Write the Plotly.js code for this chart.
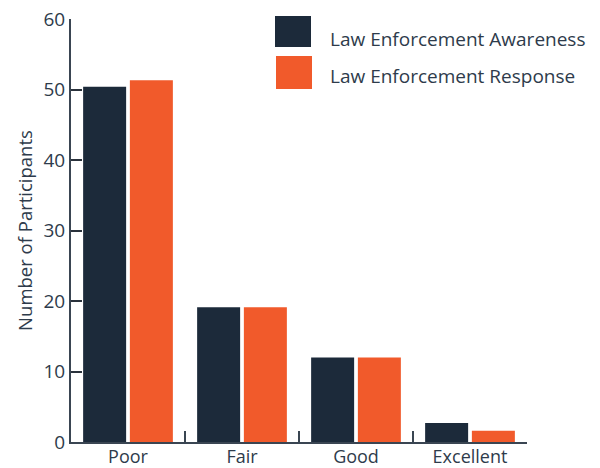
<!DOCTYPE html>
<html><head><meta charset="utf-8">
<script src="https://cdn.plot.ly/plotly-3.0.1.min.js"></script>
<style>html,body{margin:0;padding:0;background:#fff}#c{width:600px;height:468px}</style>
</head><body><div id="c"></div>
<script>
const categories = ["Poor", "Fair", "Good", "Excellent"];
const seriesNames = ["Law Enforcement Awareness", "Law Enforcement Response"];
const awareness = [50.4, 19.1, 12.0, 2.7];
const response = [51.3, 19.1, 12.0, 1.6];
const yTicks = [0, 10, 20, 30, 40, 50, 60];
const colors = ["#1c2a3a", "#f15a2b"];
const textColor = "#2e3b4b";

const traces = [
  {type: "bar", x: categories, y: awareness, name: seriesNames[0], marker: {color: colors[0]}, showlegend: false, hoverinfo: "none"},
  {type: "bar", x: categories, y: response, name: seriesNames[1], marker: {color: colors[1]}, showlegend: false, hoverinfo: "none"}
];

const L = 71, R = 527, T = 19, B = 442;
const px = v => (v - L) / (R - L);
const py = v => (B - v) / (B - T);

const layout = {
  width: 600, height: 468,
  margin: {l: L, r: 600 - R, t: T, b: 468 - B, pad: 0},
  paper_bgcolor: "#fff", plot_bgcolor: "#fff",
  barmode: "group", bargap: 0.18, bargroupgap: 0.08,
  font: {family: "Open Sans, sans-serif", color: textColor, size: 19},
  xaxis: {
    showline: true, linecolor: "#3a4552", linewidth: 2,
    ticks: "inside", tickson: "boundaries", ticklen: 11, tickwidth: 2, tickcolor: "#3a4552",
    tickfont: {size: 18, color: textColor}, ticklabelstandoff: -3,
    showgrid: false, zeroline: false, fixedrange: true
  },
  yaxis: {
    range: [0, 60], tickvals: yTicks, showline: true, linecolor: "#3a4552", linewidth: 2,
    ticks: "inside", ticklen: 11, tickwidth: 2, tickcolor: "#2a323c",
    tickfont: {size: 19, color: textColor}, showgrid: false, zeroline: false,
    title: {text: "Number of Participants", font: {size: 18.5, color: textColor}, standoff: 6}
  },
  shapes: [
    {type: "rect", xref: "paper", yref: "paper", x0: px(275), x1: px(311), y0: py(47), y1: py(16), fillcolor: colors[0], line: {width: 0}},
    {type: "rect", xref: "paper", yref: "paper", x0: px(276), x1: px(312), y0: py(89), y1: py(56), fillcolor: colors[1], line: {width: 0}}
  ],
  annotations: [
    {xref: "paper", yref: "paper", x: px(328), y: py(39), xanchor: "left", yanchor: "middle", text: seriesNames[0], showarrow: false, font: {size: 19, color: textColor}},
    {xref: "paper", yref: "paper", x: px(328), y: py(76), xanchor: "left", yanchor: "middle", text: seriesNames[1], showarrow: false, font: {size: 19, color: textColor}}
  ]
};
Plotly.newPlot("c", traces, layout, {displayModeBar: false, staticPlot: true});
</script></body></html>
